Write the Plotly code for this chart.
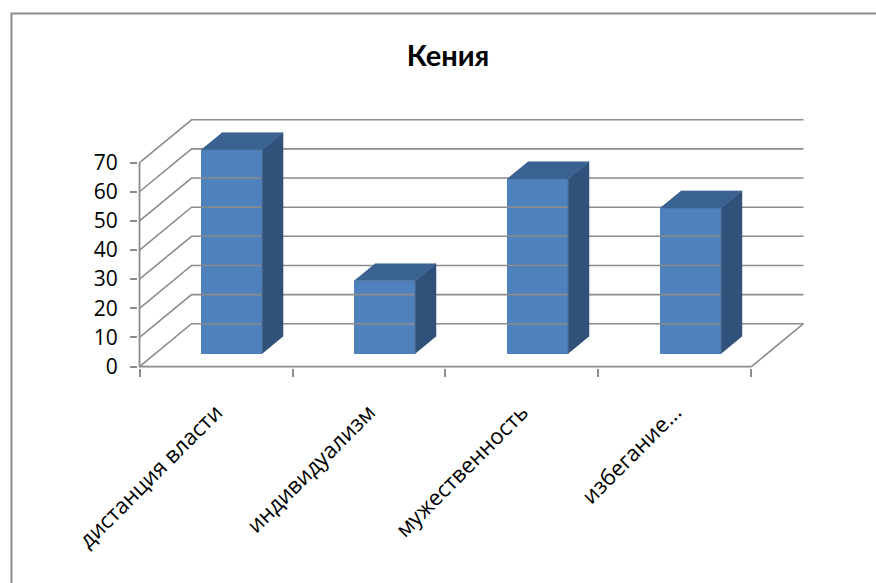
import plotly.graph_objects as go

# ---- data -------------------------------------------------------------
CATEGORIES = ["дистанция власти", "индивидуализм", "мужественность", "избегание..."]
VALUES = [70, 25, 60, 50]
Y_TICKS = [0, 10, 20, 30, 40, 50, 60, 70]
TITLE = "Кения"

# ---- pseudo-3D geometry (in axis units) --------------------------------
DEPTH_DX = 0.34      # horizontal shift of the back wall, in category units
DEPTH_DY = 14.7      # vertical shift of the back wall, in value units
BAR_HALF = 0.2       # half of the bar width (category units)
BAR_D0, BAR_D1 = 0.3, 0.7   # bar front / back depth (0 = front, 1 = back wall)
N = len(CATEGORIES)

FRONT = "#4F81BD"
SIDE = "#30527A"
TOP = "#3B6392"
GRID = "#8C8C8C"
TITLE_FONT = "Lato"
TICK_FONT = "Open Sans"

W, H = 876, 583
M_L, M_R, M_T, M_B = 138, 71, 116, 215


def proj(c, v, d):
    """Project (category, value, depth) onto the 2-D axes."""
    return c + d * DEPTH_DX, v + d * DEPTH_DY


def polyline(points):
    xs, ys = [], []
    for p in points:
        if p is None:
            xs.append(None)
            ys.append(None)
        else:
            x, y = proj(*p)
            xs.append(x)
            ys.append(y)
    return xs, ys


fig = go.Figure()

# walls: back-wall gridlines + left-wall diagonals, floor edge
pts = []
for v in Y_TICKS:
    pts += [(0, v, 0), (0, v, 1), (N, v, 1), None]
pts += [(N, 0, 0), (N, 0, 1), None]
gx, gy = polyline(pts)
fig.add_trace(go.Scatter(x=gx, y=gy, mode="lines",
                         line=dict(color=GRID, width=1.6),
                         hoverinfo="skip", showlegend=False))

# front axis lines (value axis up to the last tick, category axis along floor)
ax_pts = [(0, Y_TICKS[-1], 0), (0, 0, 0), (N, 0, 0)]
axx, axy = polyline(ax_pts)
fig.add_trace(go.Scatter(x=axx, y=axy, mode="lines",
                         line=dict(color=GRID, width=1.8),
                         hoverinfo="skip", showlegend=False))

# side and top faces of the bars
side_pts, top_pts = [], []
for i, v in enumerate(VALUES):
    cl = i + 0.5 - BAR_HALF
    cr = i + 0.5 + BAR_HALF
    side_pts += [(cr, 0, BAR_D0), (cr, v, BAR_D0), (cr, v, BAR_D1), (cr, 0, BAR_D1), None]
    top_pts += [(cl, v, BAR_D0), (cr, v, BAR_D0), (cr, v, BAR_D1), (cl, v, BAR_D1), None]
sx, sy = polyline(side_pts)
tx, ty = polyline(top_pts)
fig.add_trace(go.Scatter(x=sx, y=sy, mode="lines", fill="toself", fillcolor=SIDE,
                         line=dict(color=SIDE, width=0.5),
                         hoverinfo="skip", showlegend=False))
fig.add_trace(go.Scatter(x=tx, y=ty, mode="lines", fill="toself", fillcolor=TOP,
                         line=dict(color=TOP, width=0.5),
                         hoverinfo="skip", showlegend=False))

# front faces of the bars
base_x, base_y = proj(0, 0, BAR_D0)
fig.add_trace(go.Bar(
    x=[i + 0.5 + base_x for i in range(N)],
    y=VALUES,
    base=[base_y] * N,
    width=2 * BAR_HALF,
    marker=dict(color=FRONT, line=dict(width=0)),
    hovertext=CATEGORIES,
    showlegend=False,
))

fig.update_layout(
    width=W, height=H,
    margin=dict(l=M_L, r=M_R, t=M_T, b=M_B),
    paper_bgcolor="white",
    plot_bgcolor="white",
    showlegend=False,
    title=dict(text="<b>" + TITLE + "</b>", x=448 / W, xref="container", xanchor="center",
               y=1 - 56 / H, yref="container", yanchor="middle",
               font=dict(family=TITLE_FONT, size=29, color="black")),
    font=dict(family=TICK_FONT, color="black"),
    xaxis=dict(
        range=[-0.01, N + DEPTH_DX + 0.01],
        showgrid=False, zeroline=False, showline=False,
        tickmode="array",
        tickvals=[i + 0.5 for i in range(N)],
        ticktext=CATEGORIES,
        ticks="",
        tickangle=-45,
        ticklabelstandoff=26,
        tickfont=dict(family=TICK_FONT, size=22, color="black"),
        minor=dict(tickmode="array", tickvals=list(range(N + 1)),
                   ticks="outside", ticklen=8, tickwidth=1.8, tickcolor=GRID,
                   showgrid=False),
        fixedrange=True,
    ),
    yaxis=dict(
        range=[-0.5, 86],
        showgrid=False, zeroline=False, showline=False,
        tickmode="array",
        tickvals=Y_TICKS,
        ticks="outside", ticklen=7, tickwidth=1.8, tickcolor=GRID,
        ticklabelstandoff=8,
        tickfont=dict(family=TICK_FONT, size=21, color="black"),
        fixedrange=True,
    ),
    bargap=0,
)

# outer chart-area border
plot_w = W - M_L - M_R
plot_h = H - M_T - M_B
fig.add_shape(type="rect", xref="paper", yref="paper",
              x0=(11.5 - M_L) / plot_w, x1=(W + 20 - M_L) / plot_w,
              y0=-(M_B + 20) / plot_h, y1=(H - M_B - 13.5) / plot_h,
              line=dict(color=GRID, width=2), layer="below")

fig.write_html("out.html")
